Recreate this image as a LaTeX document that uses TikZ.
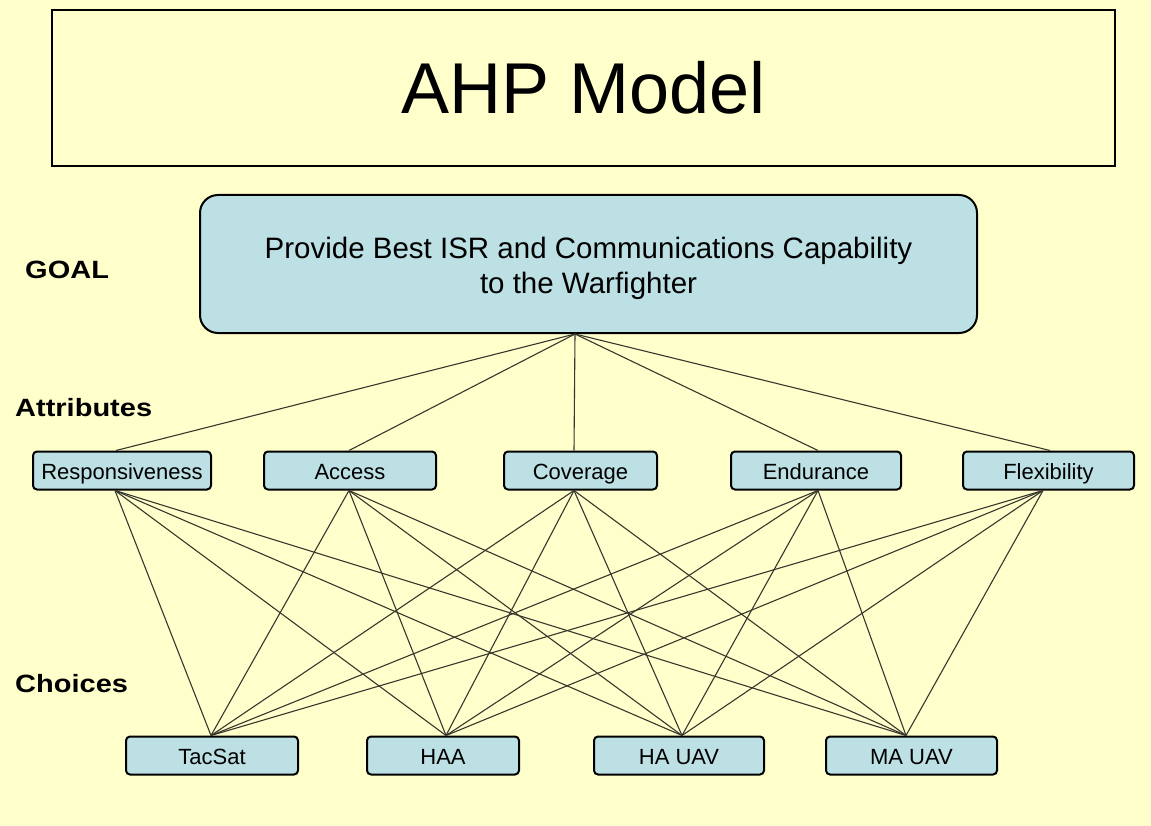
\documentclass[tikz,border=0pt]{standalone}
\usepackage{fontspec}
\setmainfont{Liberation Sans}
\usetikzlibrary{positioning}
\definecolor{bgyellow}{RGB}{255,255,204}
\definecolor{boxblue}{RGB}{188,224,228}
\definecolor{linegray}{RGB}{55,55,45}
\tikzset{
  titlebox/.style={draw=black, line width=2.6pt, fill=bgyellow, minimum width=1063pt, minimum height=156pt, inner sep=0pt,
    font=\fontsize{72}{86}\selectfont},
  goalbox/.style={draw=black, line width=2pt, fill=boxblue, rounded corners=18pt, minimum width=777pt, minimum height=138pt,
    inner sep=0pt},
  goaltext/.style={align=center, inner sep=0pt, font=\fontsize{29.5}{35}\selectfont},
  itembox/.style={draw=black, line width=2pt, fill=boxblue, rounded corners=4pt, minimum height=38pt, inner sep=0pt,
    text height=17pt, text depth=0pt, font=\fontsize{22}{26}\selectfont},
  sidelabel/.style={anchor=west, inner sep=0pt, font=\fontsize{25}{30}\selectfont\bfseries},
  link/.style={draw=linegray, line width=1.1pt}
}
\newcommand{\wideb}[1]{\scalebox{1.16}[1]{#1}}
\begin{document}
\begin{tikzpicture}[x=1pt,y=-1pt]
\fill[bgyellow] (0,0) rectangle (1151,826);
\useasboundingbox (0,0) rectangle (1151,826);

\node[titlebox] (title) at (583.5,88) {AHP Model};
\node[goalbox] (goal) at (588.5,264) {};
\node[goaltext] (goaltxt) at (588.5,268.5) {Provide Best ISR and Communications Capability\\to the Warfighter};

\node[sidelabel] (lgoal) at (25,270) {\wideb{GOAL}};
\node[sidelabel] (lattr) at (15,408) {\wideb{Attributes}};
\node[sidelabel] (lchoice) at (15,684) {\wideb{Choices}};

\node[itembox, minimum width=178pt] (resp) at (122,470.5) {Responsiveness};
\node[itembox, minimum width=172pt] (acc) at (350,470.5) {Access};
\node[itembox, minimum width=153pt] (cov) at (580.5,470.5) {Coverage};
\node[itembox, minimum width=170pt] (end) at (816,470.5) {Endurance};
\node[itembox, minimum width=171pt] (flex) at (1048.5,470.5) {Flexibility};

\node[itembox, minimum width=172pt] (tac) at (212,755.5) {TacSat};
\node[itembox, minimum width=152pt] (haa) at (443,755.5) {HAA};
\node[itembox, minimum width=170pt] (hau) at (679,755.5) {HA UAV};
\node[itembox, minimum width=171pt] (mau) at (911.5,755.5) {MA UAV};

\coordinate (g) at ([xshift=-13.5pt]goal.south);
\coordinate (respT) at ([xshift=-6pt]resp.north);
\coordinate (accT) at ([xshift=-1pt]acc.north);
\coordinate (covT) at ([xshift=-6.5pt]cov.north);
\coordinate (endT) at ([xshift=2pt]end.north);
\coordinate (flexT) at ([xshift=1.5pt]flex.north);
\coordinate (respB) at ([xshift=-7pt]resp.south);
\coordinate (accB) at ([xshift=-1pt]acc.south);
\coordinate (covB) at ([xshift=-6.5pt]cov.south);
\coordinate (endB) at ([xshift=2pt]end.south);
\coordinate (flexB) at ([xshift=-5.5pt]flex.south);
\coordinate (tacT) at ([xshift=-1pt]tac.north);
\coordinate (haaT) at ([xshift=3pt]haa.north);
\coordinate (hauT) at ([xshift=3pt]hau.north);
\coordinate (mauT) at ([xshift=-5.5pt]mau.north);

\foreach \a in {respT,accT,covT,endT,flexT}
  \draw[link] (g) -- (\a);
\foreach \a in {respB,accB,covB,endB,flexB}
  \foreach \c in {tacT,haaT,hauT,mauT}
    \draw[link] (\a) -- (\c);
\end{tikzpicture}
\end{document}
